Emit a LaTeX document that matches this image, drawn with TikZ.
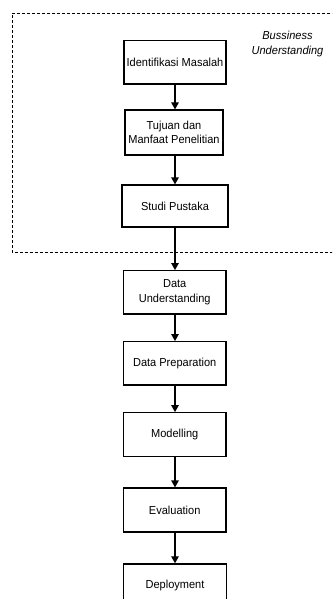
\documentclass[tikz,border=0pt]{standalone}
\usepackage{fontspec}
\setmainfont{Liberation Sans}
\newfontfamily\boxfont[FakeStretch=0.95]{Liberation Sans}
\usetikzlibrary{arrows.meta}
\begin{document}
\begin{tikzpicture}[x=1pt,y=-1pt,
  stepbox/.style={draw=black,line width=1.2pt,fill=white,minimum width=102pt,minimum height=44pt,inner sep=0pt,align=center,font=\boxfont\fontsize{11.6}{14.5}\selectfont},
  flow/.style={-{Triangle[length=7pt,width=7.5pt]},line width=1.2pt},
  region/.style={draw=black,line width=0.9pt,dash pattern=on 3pt off 2pt}]
\useasboundingbox (0,0) rectangle (332,599);
\clip (0,0) rectangle (332,599);
\draw[region] (340,13.3) -- (12,13.3) -- (12,252.7) -- (340,252.7);
\node[font=\boxfont\fontsize{11.6}{15.5}\selectfont\itshape,align=center] (lbl) at (287.5,44) {Bussiness\\Understanding};
\node[stepbox,minimum width=102pt,minimum height=43.5pt] (a) at (175,62.3) {Identifikasi Masalah};
\node[stepbox,minimum width=98pt,minimum height=45pt] (b) at (174,132.5) {Tujuan dan\\Manfaat Penelitian};
\node[stepbox,minimum width=106pt,minimum height=42pt] (c) at (175,206) {Studi Pustaka};
\node[stepbox,minimum width=102.7pt,minimum height=43.3pt] (d) at (174.7,292.3) {Data\\Understanding};
\node[stepbox,minimum width=102.7pt,minimum height=43.3pt] (e) at (174.7,363.3) {Data Preparation};
\node[stepbox,minimum width=102.7pt,minimum height=44pt] (f) at (174.7,434.7) {Modelling};
\node[stepbox,minimum width=102.7pt,minimum height=44pt] (g) at (174.7,510) {Evaluation};
\node[stepbox,minimum width=103.4pt,minimum height=56pt,anchor=north] (h) at (175,563.3) {};
\node[font=\boxfont\fontsize{11.6}{14.5}\selectfont] (ht) at (175,585.5) {Deployment};
\draw[flow] (a.south -| 175,0) -- (b.north -| 175,0);
\draw[flow] (b.south -| 175,0) -- (c.north -| 175,0);
\draw[flow] (c.south -| 175,0) -- (d.north -| 175,0);
\draw[flow] (d.south -| 175,0) -- (e.north -| 175,0);
\draw[flow] (e.south -| 175,0) -- (f.north -| 175,0);
\draw[flow] (f.south -| 175,0) -- (g.north -| 175,0);
\draw[flow] (g.south -| 175,0) -- (h.north -| 175,0);
\end{tikzpicture}
\end{document}
